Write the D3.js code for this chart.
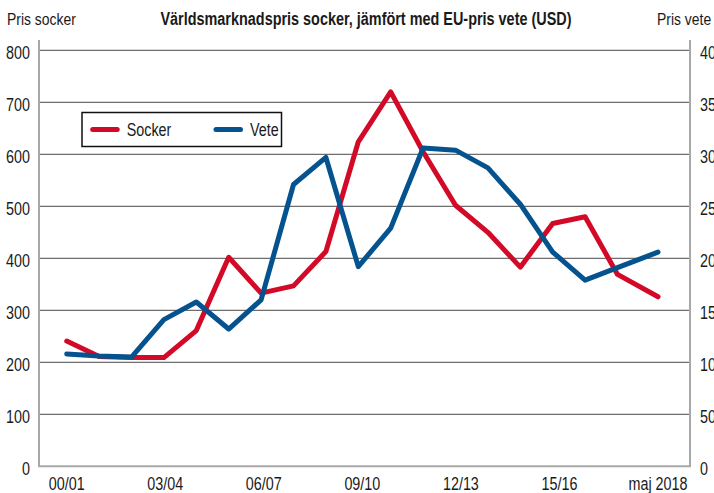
<!DOCTYPE html>
<html>
<head>
<meta charset="utf-8">
<script src="https://cdn.jsdelivr.net/npm/d3@7"></script>
<style>
  body { margin: 0; background: #fff; }
  svg text { font-family: "Liberation Sans", Arial, sans-serif; fill: #1a1a1a; }
</style>
</head>
<body>
<div class="chart"></div>
<script>
// seasons (only every third one is labelled on the axis)
const seasons = ['00/01', '01/02', '02/03', '03/04', '04/05', '05/06', '06/07', '07/08', '08/09',
  '09/10', '10/11', '11/12', '12/13', '13/14', '14/15', '15/16', '16/17', '17/18', 'maj 2018'];
// position along the time axis, in seasons (last point is a bit further out)
const seasonPos = [0, 1, 2, 3, 4, 5, 6, 7, 8, 9, 10, 11, 12, 13, 14, 15, 16, 17, 18.25];
const socker = [241, 211, 209, 209, 261, 402, 333, 347, 413, 624, 720, 605, 502, 450, 383, 467, 480, 369, 326];
const vete = [108, 106, 105, 141, 158, 132, 160, 271, 297, 192, 229, 306, 304, 287, 252, 206, 179, 191, 206];
const tickLabels = ['00/01', '03/04', '06/07', '09/10', '12/13', '15/16', 'maj 2018'];
const leftTicks = [0, 100, 200, 300, 400, 500, 600, 700, 800];
const rightTicks = [0, 50, 100, 150, 200, 250, 300, 350, 400];

const width = 714;
const height = 493;
const plot = { left: 39, right: 690, top: 50.3, bottom: 466.3 };
const narrow = 0.82; // no condensed font installed, so squeeze the regular one

// squeeze text horizontally around its own anchor point
function squeeze(selection) {
  selection.attr('transform', function () {
    const ax = +this.getAttribute('x') || 0;
    return `translate(${ax},0) scale(${narrow},1) translate(${-ax},0)`;
  });
}

const svg = d3.select('.chart')
  .append('svg')
  .attr('width', width)
  .attr('height', height);

const x = d3.scaleLinear()
  .domain([0, seasonPos[seasonPos.length - 1]])
  .range([66.7, 658]);

const yLeft = d3.scaleLinear()
  .domain([0, 800])
  .range([plot.bottom, plot.top]);

const yRight = d3.scaleLinear()
  .domain([0, 400])
  .range([plot.bottom, plot.top]);

// gridlines
svg.append('g')
  .selectAll('line')
  .data(leftTicks.slice(1))
  .enter()
  .append('line')
  .attr('x1', plot.left)
  .attr('x2', plot.right)
  .attr('y1', d => yLeft(d))
  .attr('y2', d => yLeft(d))
  .attr('stroke', '#6e6e6e')
  .attr('stroke-width', 1.2);

// frame: left, right and bottom in light grey
svg.append('path')
  .attr('d', `M${plot.left},40V${plot.bottom}H${plot.right}V40`)
  .attr('fill', 'none')
  .attr('stroke', '#a8a8a8')
  .attr('stroke-width', 2);

// left axis labels
svg.append('g')
  .attr('transform', `translate(${plot.left},0)`)
  .call(d3.axisLeft(yLeft).tickValues(leftTicks).tickSize(0).tickPadding(9))
  .call(g => g.select('.domain').remove())
  .selectAll('text')
  .attr('dy', '0.47em')
  .style('font-size', '17.5px')
  .call(squeeze);

// right axis labels
svg.append('g')
  .attr('transform', `translate(${plot.right},0)`)
  .call(d3.axisRight(yRight).tickValues(rightTicks).tickSize(0).tickPadding(10))
  .call(g => g.select('.domain').remove())
  .selectAll('text')
  .attr('dy', '0.47em')
  .style('font-size', '17.5px')
  .call(squeeze);

// bottom labels, spread evenly from first to last point
const last = seasonPos[seasonPos.length - 1];
svg.append('g')
  .selectAll('text')
  .data(tickLabels)
  .enter()
  .append('text')
  .attr('x', (d, i) => x(i * last / (tickLabels.length - 1)))
  .attr('y', 490)
  .attr('text-anchor', 'middle')
  .style('font-size', '17.5px')
  .text(d => d)
  .call(squeeze);

// header texts
svg.append('text')
  .attr('x', 7)
  .attr('y', 25)
  .style('font-size', '17px')
  .text('Pris socker')
  .call(squeeze);

svg.append('text')
  .attr('x', 657)
  .attr('y', 25)
  .style('font-size', '17px')
  .text('Pris vete')
  .call(squeeze);

svg.append('text')
  .attr('x', 366)
  .attr('y', 25)
  .attr('text-anchor', 'middle')
  .style('font-size', '17.6px')
  .style('font-weight', 'bold')
  .text('Världsmarknadspris socker, jämfört med EU-pris vete (USD)')
  .call(squeeze);

// lines
const lineSocker = d3.line()
  .x((d, i) => x(seasonPos[i]))
  .y(d => yLeft(d));

const lineVete = d3.line()
  .x((d, i) => x(seasonPos[i]))
  .y(d => yRight(d));

const series = [
  { name: 'Socker', values: socker, line: lineSocker, color: '#d20a28' },
  { name: 'Vete', values: vete, line: lineVete, color: '#04538f' },
];

svg.selectAll('path.series')
  .data(series)
  .enter()
  .append('path')
  .attr('class', 'series')
  .attr('d', d => d.line(d.values))
  .attr('fill', 'none')
  .attr('stroke', d => d.color)
  .attr('stroke-width', 5)
  .attr('stroke-linejoin', 'round')
  .attr('stroke-linecap', 'round');

// legend
const legend = svg.append('g');
legend.append('rect')
  .attr('x', 82)
  .attr('y', 112.5)
  .attr('width', 199.5)
  .attr('height', 34)
  .attr('fill', '#fff')
  .attr('stroke', '#111')
  .attr('stroke-width', 1.5);

const items = legend.selectAll('g')
  .data(series)
  .enter()
  .append('g')
  .attr('transform', (d, i) => `translate(${92.7 + i * 123.3},129.5)`);

items.append('line')
  .attr('x1', 0)
  .attr('x2', 24.5)
  .attr('stroke', d => d.color)
  .attr('stroke-width', 5)
  .attr('stroke-linecap', 'round');

items.append('text')
  .attr('x', 34)
  .attr('y', 6)
  .style('font-size', '17.5px')
  .text(d => d.name)
  .call(squeeze);
</script>
</body>
</html>
